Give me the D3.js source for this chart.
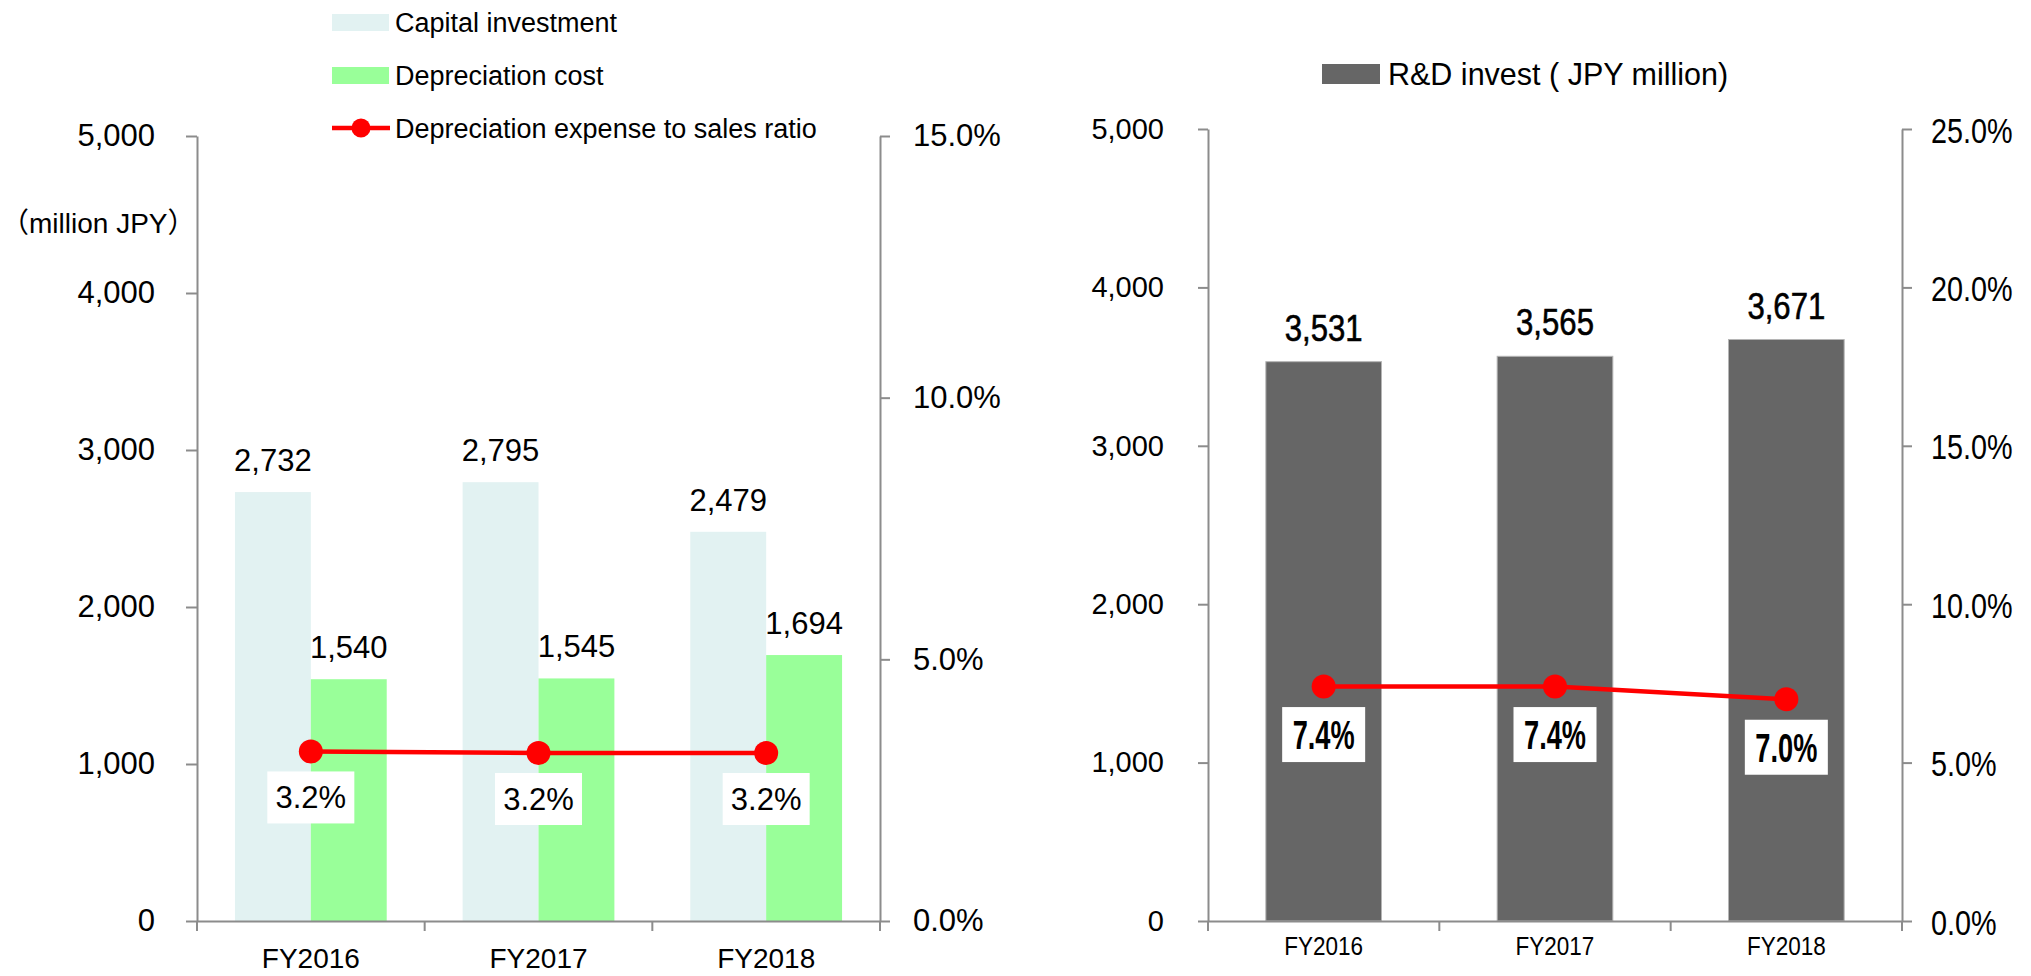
<!DOCTYPE html>
<html>
<head>
<meta charset="utf-8">
<script src="https://cdn.jsdelivr.net/npm/d3@7"></script>
<style>
  html, body { margin: 0; padding: 0; background: #fff; }
  svg { display: block; }
</style>
</head>
<body>
<svg id="chart" width="2031" height="976"></svg>
<script>
// ---------- DATA ----------
const years = ["FY2016", "FY2017", "FY2018"];
const capitalInvestment = [2732, 2795, 2479];
const depreciationCost = [1540, 1545, 1694];
const depreciationRatio = [0.0324, 0.0321, 0.0321];
const depreciationRatioLabels = ["3.2%", "3.2%", "3.2%"];
const rdInvest = [3531, 3565, 3671];
const rdRatio = [0.074, 0.074, 0.070];
const rdRatioLabels = ["7.4%", "7.4%", "7.0%"];
const amountTicks = [0, 1000, 2000, 3000, 4000, 5000];
const leftPctTicks = [0, 0.05, 0.10, 0.15];
const rightPctTicks = [0, 0.05, 0.10, 0.15, 0.20, 0.25];
const leftLegend = ["Capital investment", "Depreciation cost", "Depreciation expense to sales ratio"];
const rightLegend = ["R&D invest ( JPY million)"];
const unitLabel = "（million JPY）";

// ---------- STYLE ----------
const FONT = "'Liberation Sans', Arial, 'Noto Sans CJK JP', sans-serif";
const AXIS = "#8c8c8c";
const RED = "#ff0000";
const C_CAP = "#e2f2f2";
const C_DEP = "#99ff99";
const C_RD = "#666666";

const svg = d3.select("#chart");
svg.append("rect").attr("width", 2031).attr("height", 976).attr("fill", "#fff");

// horizontally condense text glyphs (narrow typeface look)
function condense(sel, f) {
  sel.each(function () {
    const t = d3.select(this);
    const xv = +(t.attr("x") || 0);
    const yv = +(t.attr("y") || 0);
    t.attr("x", 0).attr("y", 0)
     .attr("transform", `translate(${xv},${yv}) scale(${f},1)`);
  });
}
const fmtInt = d3.format(",");
const fmtPct = d3.format(".1%");

// =============== LEFT CHART ===============
(function () {
  const x0 = 197, x1 = 880, yb = 921, yt = 136;
  const x = d3.scaleBand().domain(years).range([x0, x1]).padding(0);
  const xs = d3.scaleBand().domain(["cap", "dep"]).range([0, x.bandwidth()]).paddingInner(0).paddingOuter(0.5);
  const y = d3.scaleLinear().domain([0, 5000]).range([yb, yt]);
  const y2 = d3.scaleLinear().domain([0, 0.15]).range([yb, yt]);
  const g = svg.append("g");

  // bars
  g.selectAll("rect.cap").data(years).join("rect")
    .attr("x", d => x(d) + xs("cap")).attr("width", xs.bandwidth())
    .attr("y", (d, i) => y(capitalInvestment[i])).attr("height", (d, i) => yb - y(capitalInvestment[i]))
    .attr("fill", C_CAP);
  g.selectAll("rect.dep").data(years).join("rect")
    .attr("x", d => x(d) + xs("dep")).attr("width", xs.bandwidth())
    .attr("y", (d, i) => y(depreciationCost[i])).attr("height", (d, i) => yb - y(depreciationCost[i]))
    .attr("fill", C_DEP);

  // axes
  const ax = g.append("g").attr("transform", `translate(${x0},0)`)
    .call(d3.axisLeft(y).tickValues(amountTicks).tickFormat(fmtInt).tickSize(11).tickSizeOuter(0).tickPadding(31));
  const ax2 = g.append("g").attr("transform", `translate(${x1},0)`)
    .call(d3.axisRight(y2).tickValues(leftPctTicks).tickFormat(fmtPct).tickSize(10).tickSizeOuter(0).tickPadding(23));
  const axb = g.append("g").attr("transform", `translate(0,${yb})`)
    .call(d3.axisBottom(x).tickSize(0).tickSizeOuter(0).tickPadding(0));
  [ax, ax2, axb].forEach(a => {
    a.attr("font-family", FONT).attr("font-size", 31);
    a.selectAll("path.domain, line").attr("stroke", AXIS).attr("stroke-width", 2);
    a.selectAll("text").attr("fill", "#000");
  });
  axb.selectAll("text").attr("font-size", 28).attr("dy", null).attr("y", 47);
  // category boundary ticks
  g.selectAll("line.ctick").data(d3.range(years.length + 1)).join("line")
    .attr("x1", i => x0 + i * x.step()).attr("x2", i => x0 + i * x.step())
    .attr("y1", yb).attr("y2", yb + 10).attr("stroke", AXIS).attr("stroke-width", 2);

  // value labels
  g.selectAll("text.capv").data(years).join("text")
    .attr("x", d => x(d) + xs("cap") + xs.bandwidth() / 2)
    .attr("y", (d, i) => y(capitalInvestment[i]) - 21)
    .attr("text-anchor", "middle").attr("font-family", FONT).attr("font-size", 31)
    .text((d, i) => fmtInt(capitalInvestment[i]));
  g.selectAll("text.depv").data(years).join("text")
    .attr("x", d => x(d) + xs("dep") + xs.bandwidth() / 2)
    .attr("y", (d, i) => y(depreciationCost[i]) - 21)
    .attr("text-anchor", "middle").attr("font-family", FONT).attr("font-size", 31)
    .text((d, i) => fmtInt(depreciationCost[i]));

  // line
  const cx = d => x(d) + x.bandwidth() / 2;
  g.append("path").datum(years)
    .attr("d", d3.line().x(cx).y((d, i) => y2(depreciationRatio[i])))
    .attr("fill", "none").attr("stroke", RED).attr("stroke-width", 4.5);
  g.selectAll("circle.pt").data(years).join("circle")
    .attr("cx", cx).attr("cy", (d, i) => y2(depreciationRatio[i])).attr("r", 12).attr("fill", RED);

  // ratio labels
  const lb = g.selectAll("g.rl").data(years).join("g")
    .attr("transform", (d, i) => `translate(${cx(d)},${y2(depreciationRatio[i]) + 46})`);
  lb.append("rect").attr("x", -43.5).attr("y", -26).attr("width", 87).attr("height", 52).attr("fill", "#fff");
  lb.append("text").attr("text-anchor", "middle").attr("y", 11)
    .attr("font-family", FONT).attr("font-size", 31).text((d, i) => depreciationRatioLabels[i]);

  // unit label
  g.append("text").attr("x", 1).attr("y", 233).attr("text-anchor", "start")
    .attr("font-family", FONT).attr("font-size", 28).text(unitLabel);

  // legend
  const lg = g.append("g");
  const rows = [22.5, 75, 128];
  lg.append("rect").attr("x", 332).attr("y", 14).attr("width", 57).attr("height", 17).attr("fill", C_CAP);
  lg.append("rect").attr("x", 332).attr("y", 67).attr("width", 57).attr("height", 17).attr("fill", C_DEP);
  lg.append("line").attr("x1", 332).attr("x2", 390).attr("y1", rows[2]).attr("y2", rows[2])
    .attr("stroke", RED).attr("stroke-width", 4.5);
  lg.append("circle").attr("cx", 361).attr("cy", rows[2]).attr("r", 9.5).attr("fill", RED);
  lg.selectAll("text").data(leftLegend).join("text")
    .attr("x", 395).attr("y", (d, i) => rows[i] + 9.7)
    .attr("font-family", FONT).attr("font-size", 27).text(d => d);
})();

// =============== RIGHT CHART ===============
(function () {
  const x0 = 1208, x1 = 1902, yb = 921, yt = 129;
  const x = d3.scaleBand().domain(years).range([x0, x1]).padding(0);
  const xb = d3.scaleBand().domain(years).range([x0, x1]).paddingInner(0.5).paddingOuter(0.25);
  const y = d3.scaleLinear().domain([0, 5000]).range([yb, yt]);
  const y2 = d3.scaleLinear().domain([0, 0.25]).range([yb, yt]);
  const g = svg.append("g");

  g.selectAll("rect.rd").data(years).join("rect")
    .attr("x", d => xb(d)).attr("width", xb.bandwidth())
    .attr("y", (d, i) => y(rdInvest[i])).attr("height", (d, i) => yb - y(rdInvest[i]))
    .attr("fill", C_RD).attr("stroke", "#b5b5b5").attr("stroke-width", 1);

  const ax = g.append("g").attr("transform", `translate(${x0},0)`)
    .call(d3.axisLeft(y).tickValues(amountTicks).tickFormat(fmtInt).tickSize(10).tickSizeOuter(0).tickPadding(34));
  const ax2 = g.append("g").attr("transform", `translate(${x1},0)`)
    .call(d3.axisRight(y2).tickValues(rightPctTicks).tickFormat(fmtPct).tickSize(10).tickSizeOuter(0).tickPadding(19));
  const axb = g.append("g").attr("transform", `translate(0,${yb})`)
    .call(d3.axisBottom(x).tickSize(0).tickSizeOuter(0).tickPadding(0));
  [ax, ax2, axb].forEach(a => {
    a.attr("font-family", FONT);
    a.selectAll("path.domain, line").attr("stroke", AXIS).attr("stroke-width", 2);
    a.selectAll("text").attr("fill", "#000");
  });
  ax.attr("font-size", 29);
  ax2.attr("font-size", 36);
  ax2.selectAll("text").attr("dy", null).attr("y", 13);
  condense(ax2.selectAll("text"), 0.8);
  axb.attr("font-size", 25);
  axb.selectAll("text").attr("dy", null).attr("y", 34);
  condense(axb.selectAll("text"), 0.9);
  g.selectAll("line.ctick").data(d3.range(years.length + 1)).join("line")
    .attr("x1", i => x0 + i * x.step()).attr("x2", i => x0 + i * x.step())
    .attr("y1", yb).attr("y2", yb + 10).attr("stroke", AXIS).attr("stroke-width", 2);

  const vl = g.selectAll("text.rdv").data(years).join("text")
    .attr("x", d => xb(d) + xb.bandwidth() / 2)
    .attr("y", (d, i) => y(rdInvest[i]) - 21)
    .attr("text-anchor", "middle").attr("font-family", FONT).attr("font-size", 37.5)
    .attr("stroke", "#000").attr("stroke-width", 0.6)
    .text((d, i) => fmtInt(rdInvest[i]));
  condense(vl, 0.83);

  const cx = d => x(d) + x.bandwidth() / 2;
  g.append("path").datum(years)
    .attr("d", d3.line().x(cx).y((d, i) => y2(rdRatio[i])))
    .attr("fill", "none").attr("stroke", RED).attr("stroke-width", 4.5);
  g.selectAll("circle.pt").data(years).join("circle")
    .attr("cx", cx).attr("cy", (d, i) => y2(rdRatio[i])).attr("r", 12).attr("fill", RED);

  const lb = g.selectAll("g.rl").data(years).join("g")
    .attr("transform", (d, i) => `translate(${cx(d)},${y2(rdRatio[i]) + 48})`);
  lb.append("rect").attr("x", -41.5).attr("y", -27.5).attr("width", 83).attr("height", 55).attr("fill", "#fff");
  const rt = lb.append("text").attr("text-anchor", "middle").attr("y", 14.5)
    .attr("font-family", FONT).attr("font-weight", "bold").attr("font-size", 40)
    .text((d, i) => rdRatioLabels[i]);
  condense(rt, 0.68);

  // legend
  g.append("rect").attr("x", 1322).attr("y", 64).attr("width", 58).attr("height", 20).attr("fill", C_RD);
  g.selectAll("text.lg").data(rightLegend).join("text")
    .attr("x", 1388).attr("y", 74 + 11)
    .attr("font-family", FONT).attr("font-size", 30.5).text(d => d);
})();
</script>
</body>
</html>
